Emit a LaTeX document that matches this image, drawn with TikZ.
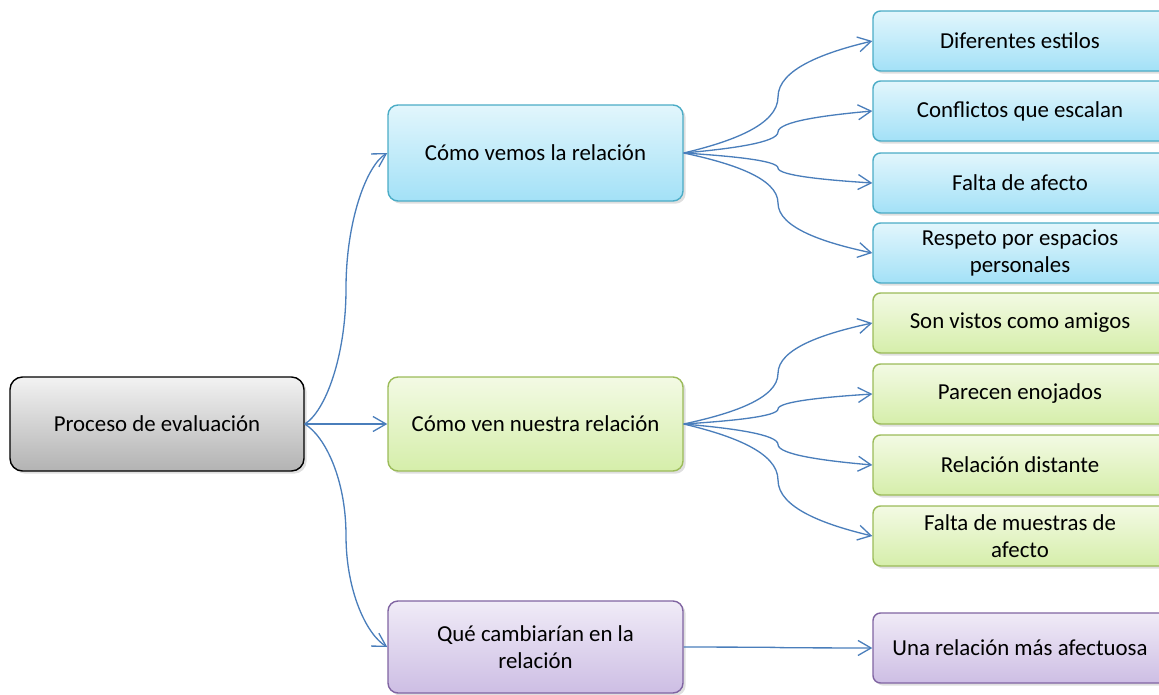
\documentclass[tikz,border=0pt]{standalone}
\usepackage{fontspec}
\setmainfont{Carlito}
\usetikzlibrary{arrows.meta,shadows,calc}

\definecolor{linkblue}{HTML}{4A7EBB}
\definecolor{bluedge}{HTML}{4BACC6}
\definecolor{greenedge}{HTML}{9BBB59}
\definecolor{purpledge}{HTML}{8064A2}

\tikzset{
	branch/.style = {to path={let \p1=(\tikztostart), \p2=(\tikztotarget),
		\n1={(\x2-\x1)/2}, \n2={(\y2-\y1)/2}, \n3={max(min(0.2*\n2,0.3*\n1),-0.3*\n1)} in
		.. controls ({\x1+0.5*\n1},{\y1+\n3}) and ({\x1+\n1},{\y1+0.5*\n2}) .. ({\x1+\n1},{\y1+\n2})
		.. controls ({\x1+\n1},{\y1+1.5*\n2}) and ({\x2-0.5*\n1},{\y2-\n3}) .. (\tikztotarget) \tikztonodes}}
}

\begin{document}
\begin{tikzpicture}[auto,
	font=\fontsize{13}{15}\selectfont,
	base box/.style = {rectangle, align=center, inner sep=2pt, line width=0.8pt,
		drop shadow={shadow xshift=1.5pt, shadow yshift=-1.5pt, opacity=0.25}},
	root box/.style = {base box, draw=black, rounded corners=0.25cm,
		top color=black!5, bottom color=black!30, minimum width=5.88cm, minimum height=1.88cm},
	blue box/.style = {base box, draw=bluedge, top color={rgb,255:red,226;green,246;blue,252}, bottom color={rgb,255:red,163;green,225;blue,247}},
	green box/.style = {base box, draw=greenedge, top color={rgb,255:red,243;green,250;blue,228}, bottom color={rgb,255:red,213;green,238;blue,170}},
	purple box/.style = {base box, draw=purpledge, top color={rgb,255:red,240;green,235;blue,247}, bottom color={rgb,255:red,205;green,190;blue,228}},
	main box/.style = {rounded corners=0.2cm, minimum width=5.9cm},
	leaf box/.style = {rounded corners=0.15cm, minimum width=5.88cm, minimum height=1.2cm},
	link/.style = {draw=linkblue, line width=0.75pt, -{Straight Barb[length=2.6mm,width=3mm]}}]

	\useasboundingbox (0,0) rectangle (23.18,-13.88);

	\node[root box] (root) at (3.14,-8.48) {Proceso de evaluación};

	\node[blue box,main box,minimum height=1.92cm] (ve) at (10.71,-3.06) {Cómo vemos la relación};
	\node[green box,main box,minimum height=1.88cm] (ven) at (10.71,-8.48) {Cómo ven nuestra relación};
	\node[purple box,main box,minimum height=1.84cm] (cambio) at (10.71,-12.94) {Qué cambiarían en la\\relación};

	\node[blue box,leaf box] (b1) at (20.4,-0.82) {Diferentes estilos};
	\node[blue box,leaf box] (b2) at (20.4,-2.22) {Conflictos que escalan};
	\node[blue box,leaf box] (b3) at (20.4,-3.66) {Falta de afecto};
	\node[blue box,leaf box] (b4) at (20.4,-5.06) {Respeto por espacios\\personales};

	\node[green box,leaf box] (g1) at (20.4,-6.46) {Son vistos como amigos};
	\node[green box,leaf box] (g2) at (20.4,-7.88) {Parecen enojados};
	\node[green box,leaf box] (g3) at (20.4,-9.3) {Relación distante};
	\node[green box,leaf box] (g4) at (20.4,-10.72) {Falta de muestras de\\afecto};

	\node[purple box,leaf box,minimum height=1.4cm] (p1) at (20.4,-12.96) {Una relación más afectuosa};

	\path[every edge/.style={link,branch}]
	(root.east) edge (ve.west)
	edge (ven.west)
	edge (cambio.west)
	(ve.east) edge (b1.west)
	edge (b2.west)
	edge (b3.west)
	edge (b4.west)
	(ven.east) edge (g1.west)
	edge (g2.west)
	edge (g3.west)
	edge (g4.west)
	(cambio.east) edge (p1.west);
\end{tikzpicture}
\end{document}
